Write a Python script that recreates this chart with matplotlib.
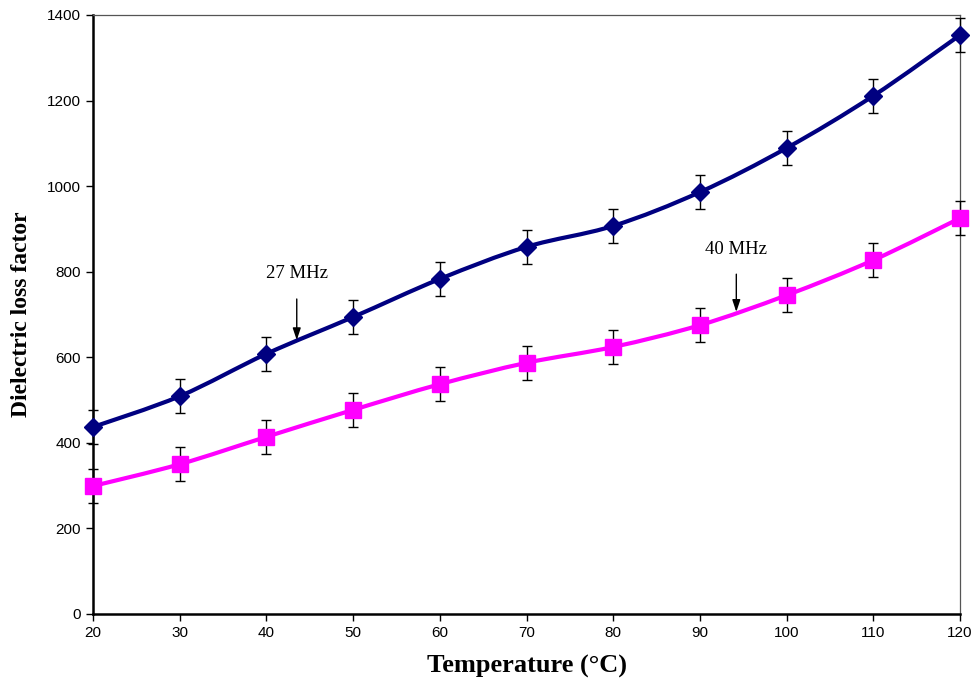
import numpy as np
import matplotlib.pyplot as plt
from matplotlib.path import Path
from matplotlib.patches import PathPatch

temps = [20, 30, 40, 50, 60, 70, 80, 90, 100, 110, 120]
loss_27 = [437, 509, 608, 694, 783, 858, 907, 986, 1089, 1211, 1353]
loss_40 = [299, 350, 414, 477, 537, 587, 624, 675, 745, 827, 925]
err = 40


def smooth_path(x, y):
    # excel-like smoothed line: catmull-rom segments as cubic beziers
    x = np.asarray(x, float)
    y = np.asarray(y, float)
    px = np.concatenate([[x[0]], x, [x[-1]]])
    py = np.concatenate([[y[0]], y, [y[-1]]])
    verts = [(x[0], y[0])]
    codes = [Path.MOVETO]
    t = 1 / 6
    for i in range(1, len(px) - 2):
        c1 = (px[i] + (px[i + 1] - px[i - 1]) * t, py[i] + (py[i + 1] - py[i - 1]) * t)
        c2 = (px[i + 1] - (px[i + 2] - px[i]) * t, py[i + 1] - (py[i + 2] - py[i]) * t)
        verts += [c1, c2, (px[i + 1], py[i + 1])]
        codes += [Path.CURVE4] * 3
    return Path(verts, codes)


fig = plt.figure(figsize=(9.76, 6.87), dpi=100)
ax = fig.add_axes([0.0953, 0.1063, 0.8883, 0.8719])

for vals, col, mk, ms in [(loss_27, '#000080', 'D', 9.5), (loss_40, '#FF00FF', 's', 11.5)]:
    ax.add_patch(PathPatch(smooth_path(temps, vals), fill=False, edgecolor=col, lw=3, zorder=2))
    ax.errorbar(temps, vals, yerr=err, fmt='none', ecolor='black', elinewidth=1,
                capsize=3.5, capthick=1, zorder=3, clip_on=False)
    ax.plot(temps, vals, linestyle='none', marker=mk, ms=ms, color=col, zorder=4, clip_on=False)

ax.set_xlim(20, 120)
ax.set_ylim(0, 1400)
ax.set_xticks(temps)
ax.set_yticks(range(0, 1401, 200))
ax.tick_params(direction='out', length=5, width=1, labelsize=11)
for lab in ax.get_xticklabels() + ax.get_yticklabels():
    lab.set_family('Liberation Sans')

ax.spines['left'].set_linewidth(1.8)
ax.spines['bottom'].set_linewidth(1.8)
ax.spines['top'].set_color('#555555')
ax.spines['right'].set_color('#555555')
ax.spines['top'].set_linewidth(0.9)
ax.spines['right'].set_linewidth(0.9)

ax.set_xlabel('Temperature (°C)', family='Liberation Serif', fontweight='bold', fontsize=19, labelpad=11)
ax.set_ylabel('Dielectric loss factor', family='Liberation Serif', fontweight='bold', fontsize=17, labelpad=11)

ax.annotate('27 MHz', xy=(43.5, 640), xytext=(43.5, 795), ha='center', va='center',
            family='Liberation Serif', fontsize=13.5,
            arrowprops=dict(arrowstyle='-|>,head_length=0.6,head_width=0.2', color='black', lw=1,
                            shrinkA=10, shrinkB=0, mutation_scale=12))
ax.annotate('40 MHz', xy=(94.2, 706), xytext=(94.2, 853), ha='center', va='center',
            family='Liberation Serif', fontsize=13.5,
            arrowprops=dict(arrowstyle='-|>,head_length=0.6,head_width=0.2', color='black', lw=1,
                            shrinkA=10, shrinkB=0, mutation_scale=12))

fig.savefig('out.png', dpi=100)
